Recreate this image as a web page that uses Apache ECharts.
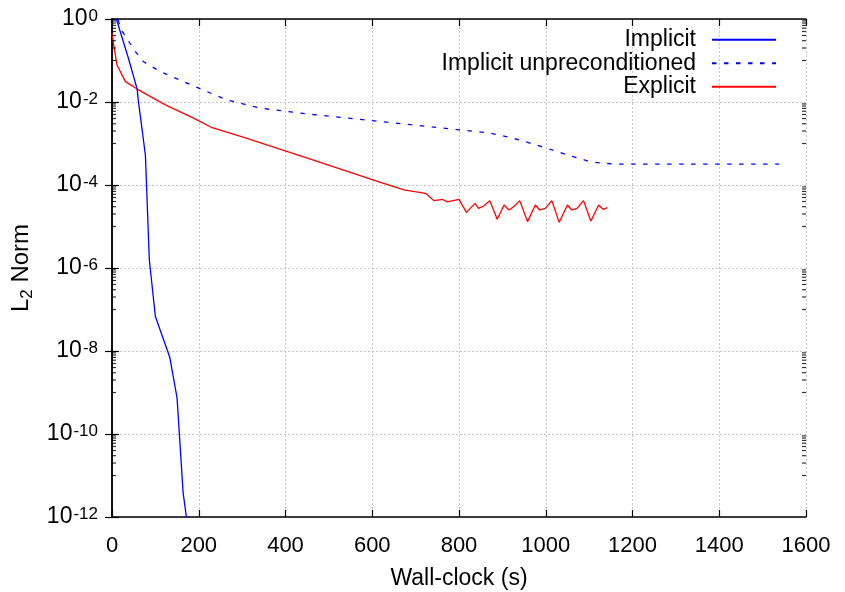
<!DOCTYPE html>
<html><head><meta charset="utf-8">
<script src="https://cdn.jsdelivr.net/npm/echarts@6/dist/echarts.min.js"></script>
<style>html,body{margin:0;padding:0;background:#fff}#c{width:845px;height:592px}</style>
</head><body><div id="c"></div>
<script>
// Data
const implicitT = [10, 38, 58, 61, 65, 73, 77, 81, 86, 100, 133, 150, 164, 171.5];
const implicitV = [1.0, 0.112, 0.0204, 0.01, 0.0049, 0.0011, 5.2e-4, 4e-5, 1.6e-6, 6.8e-8, 7.2e-9, 7.4e-10, 3.8e-12, 1e-12];

const unprecT = [14, 21.5, 54, 73, 111.5, 196, 265, 342, 435, 454, 600, 800, 865, 896, 942, 1004, 1050, 1104, 1154, 1538];
const unprecV = [0.95, 0.54, 0.163, 0.093, 0.054, 0.0224, 0.0112, 0.0071, 0.0054, 0.0051, 0.00355, 0.00214, 0.00182, 0.00158, 0.0012, 7.6e-4, 5.3e-4, 3.6e-4, 3.2e-4, 3.2e-4];

const explicitT = [0, 4, 11.5, 31, 58, 123, 188, 231, 304, 454, 619, 673, 723, 742, 762, 773, 800, 817, 837, 845, 857, 871, 888, 904, 915, 926, 940, 958, 976, 986, 999, 1014, 1031, 1050, 1060, 1072, 1087, 1104, 1122, 1132, 1142];
const explicitV = [0.45, 0.235, 0.078, 0.031, 0.0205, 0.0085, 0.0041, 0.0024, 0.0014, 4.3e-4, 1.15e-4, 7.6e-5, 6.3e-5, 4.2e-5, 4.5e-5, 3.9e-5, 4.5e-5, 2.19e-5, 3.61e-5, 2.74e-5, 3.12e-5, 4.2e-5, 1.49e-5, 3.3e-5, 2.5e-5, 3.0e-5, 4.2e-5, 1.31e-5, 3.3e-5, 2.5e-5, 2.74e-5, 4.2e-5, 1.26e-5, 3.3e-5, 2.5e-5, 2.74e-5, 4.2e-5, 1.36e-5, 3.3e-5, 2.6e-5, 2.84e-5];

const seriesNames = ['Implicit', 'Implicit unpreconditioned', 'Explicit'];
const xMin = 0, xMax = 1600, xStep = 200;
const yMin = 1e-12, yMax = 1;
// minor log ticks: mantissas x decades (gnuplot style, 2-decade majors)
const minorMantissas = [1, 2, 3, 4, 5, 6, 7, 8, 9];
const minorExponents = [-1, -3, -5, -7, -9, -11];

const pair = (t, v) => t.map((x, i) => [x, v[i]]);
const minorVals = [];
minorExponents.forEach(e => minorMantissas.forEach(m => minorVals.push(m * Math.pow(10, e))));

const FONT = 'Liberation Sans, Arial, sans-serif';
const chart = echarts.init(document.getElementById('c'), null, {renderer: 'canvas'});

const tickFmt = v => '{b|10}{s|' + Math.round(Math.log10(v)) + '}';
const richLbl = {
  b: {fontSize: 23, fontFamily: FONT, color: '#000'},
  s: {fontSize: 17, fontFamily: FONT, color: '#000', verticalAlign: 'top', padding: [0, 0, 0, 1]}
};

const axisLineStyle = {show: true, lineStyle: {color: '#000', width: 1.5}};
const gridLine = {show: true, lineStyle: {color: '#c4c4c4', width: 1, type: [2, 2]}};
const tickStyle = {show: true, inside: true, length: 7, lineStyle: {color: '#000', width: 1.2}};

chart.setOption({
  animation: false,
  backgroundColor: '#fff',
  grid: {left: 112, right: 39, top: 19, bottom: 75, containLabel: false, outerBoundsMode: 'none'},
  legend: {
    data: seriesNames,
    orient: 'vertical',
    right: 63,
    top: 23,
    align: 'right',
    itemWidth: 64,
    itemHeight: 12,
    itemGap: 0,
    itemStyle: {opacity: 0},
    textStyle: {fontSize: 23, fontFamily: FONT, color: '#000', lineHeight: 23.5, padding: [0, 11, 0, 0]},
    selectedMode: false
  },
  xAxis: [
    {
      type: 'value', min: xMin, max: xMax, interval: xStep,
      name: 'Wall-clock (s)', nameLocation: 'middle', nameGap: 50,
      nameTextStyle: {fontSize: 23, fontFamily: FONT, color: '#000'},
      axisLine: axisLineStyle,
      axisTick: tickStyle,
      axisLabel: {fontSize: 22, fontFamily: FONT, color: '#000', margin: 18, formatter: v => String(v),
        showMinLabel: true, showMaxLabel: true, hideOverlap: false},
      splitLine: gridLine
    },
    {
      type: 'value', min: xMin, max: xMax, interval: xStep, position: 'top',
      axisLine: axisLineStyle, axisTick: tickStyle,
      axisLabel: {show: false}, splitLine: {show: false}
    }
  ],
  yAxis: [
    {
      type: 'log', logBase: 10, min: yMin, max: yMax, interval: 2,
      name: '{a|L}{sub|2}{a| Norm}', nameLocation: 'middle', nameGap: 79, nameRotate: 90,
      nameTextStyle: {
        fontSize: 24, fontFamily: FONT, color: '#000',
        rich: {
          a: {fontSize: 24, fontFamily: FONT, color: '#000'},
          sub: {fontSize: 17, fontFamily: FONT, color: '#000', verticalAlign: 'bottom', padding: [0, 0, -3, 0]}
        }
      },
      axisLine: axisLineStyle,
      axisTick: tickStyle,
      axisLabel: {formatter: tickFmt, rich: richLbl, margin: 14, showMinLabel: true, showMaxLabel: true, hideOverlap: false},
      splitLine: gridLine,
      minorTick: {show: false}
    },
    {
      type: 'log', logBase: 10, min: yMin, max: yMax, interval: 2, position: 'right',
      axisLine: axisLineStyle, axisTick: tickStyle,
      axisLabel: {show: false}, splitLine: {show: false}
    }
  ],
  series: [
    {
      name: seriesNames[0], type: 'line', data: pair(implicitT, implicitV),
      symbol: 'none', showSymbol: false, lineStyle: {color: '#0000ff', width: 1.3}, itemStyle: {color: '#0000ff'}, z: 4
    },
    {
      name: seriesNames[1], type: 'line', data: pair(unprecT, unprecV),
      symbol: 'none', showSymbol: false, lineStyle: {color: '#0000ff', width: 1.3, type: [4.5, 7.5]}, itemStyle: {color: '#0000ff'}, z: 3
    },
    {
      name: seriesNames[2], type: 'line', data: pair(explicitT, explicitV),
      symbol: 'none', showSymbol: false, lineStyle: {color: '#ff0000', width: 1.3}, itemStyle: {color: '#ff0000'}, z: 3
    },
    {
      name: 'minorL', type: 'scatter', silent: true, clip: false, z: 10,
      data: minorVals.map(v => [xMin, v]),
      symbol: 'rect', symbolSize: [4, 1.2], symbolOffset: [2, 0],
      itemStyle: {color: '#000'}
    },
    {
      name: 'minorR', type: 'scatter', silent: true, clip: false, z: 10,
      data: minorVals.map(v => [xMax, v]),
      symbol: 'rect', symbolSize: [4, 1.2], symbolOffset: [-2, 0],
      itemStyle: {color: '#000'}
    }
  ]
});
</script>
</body></html>
